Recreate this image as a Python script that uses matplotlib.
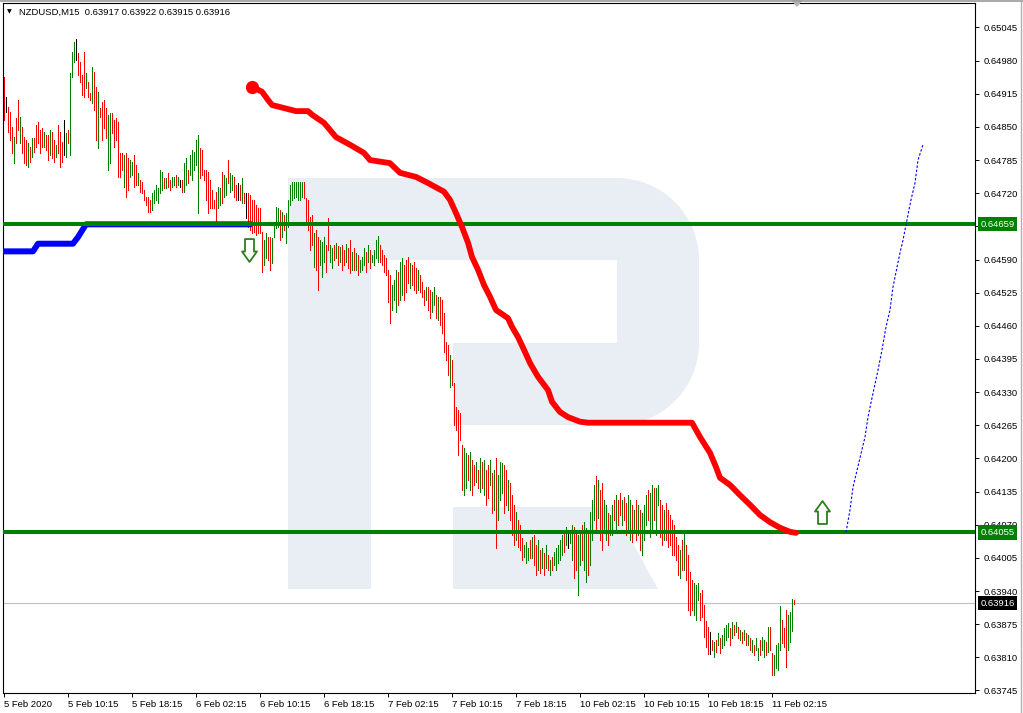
import numpy as np
import matplotlib
matplotlib.use("Agg")
import matplotlib.pyplot as plt
from matplotlib.patches import Polygon
from matplotlib.path import Path
from matplotlib.lines import Line2D

plt.rcParams['font.family'] = ['Liberation Sans', 'DejaVu Sans']

# M15 bars, prices in points (1e-5)
highs = [
    64948, 64909, 64889, 64879, 64850, 64830, 64868, 64903, 64870, 64850,
    64830, 64824, 64819, 64811, 64828, 64828, 64854, 64860, 64844, 64848,
    64840, 64834, 64834, 64844, 64840, 64824, 64815, 64854, 64840, 64821,
    64864, 64838, 64844, 64956, 64997, 65017, 65023, 64995, 64977, 64952,
    64997, 64956, 64938, 64917, 64968, 64958, 64928, 64919, 64887, 64899,
    64903, 64887, 64873, 64877, 64877, 64864, 64868, 64860, 64799, 64799,
    64795, 64799, 64789, 64785, 64781, 64795, 64775, 64760, 64746, 64742,
    64726, 64713, 64713, 64707, 64721, 64726, 64736, 64730, 64766, 64762,
    64750, 64750, 64760, 64746, 64752, 64752, 64756, 64752, 64746, 64746,
    64779, 64789, 64766, 64795, 64805, 64801, 64824, 64834, 64809, 64805,
    64766, 64766, 64762, 64746, 64726, 64707, 64722, 64732, 64730, 64762,
    64756, 64750, 64785, 64760, 64756, 64752, 64736, 64740, 64736, 64750,
    64721, 64721, 64721, 64717, 64707, 64707, 64697, 64691, 64691, 64644,
    64628, 64642, 64634, 64634, 64632, 64658, 64693, 64691, 64687, 64683,
    64677, 64681, 64707, 64736, 64742, 64742, 64742, 64742, 64742, 64742,
    64742, 64711, 64707, 64673, 64677, 64642, 64648, 64634, 64628, 64624,
    64634, 64619, 64672, 64619, 64613, 64619, 64622, 64617, 64615, 64619,
    64609, 64621, 64613, 64628, 64605, 64613, 64603, 64599, 64589, 64595,
    64613, 64605, 64619, 64609, 64599, 64609, 64628, 64636, 64619, 64609,
    64599, 64593, 64570, 64560, 64540, 64550, 64570, 64566, 64585, 64593,
    64579, 64589, 64595, 64583, 64579, 64585, 64573, 64570, 64560, 64546,
    64530, 64536, 64536, 64530, 64526, 64536, 64521, 64517, 64517, 64511,
    64485, 64428, 64422, 64403, 64393, 64348, 64301, 64295, 64289, 64226,
    64220, 64211, 64207, 64213, 64197, 64187, 64193, 64177, 64201, 64193,
    64197, 64177, 64187, 64197, 64171, 64177, 64201, 64168, 64193, 64191,
    64187, 64177, 64158, 64152, 64128, 64109, 64095, 64079, 64070, 64044,
    64030, 64036, 64024, 64040, 64046, 64050, 64030, 64040, 64020, 64024,
    64015, 64030, 64011, 64001, 64007, 64017, 64024, 64030, 64040, 64050,
    64060, 64066, 64060, 64060, 64070, 64066, 64060, 64050, 64054, 64070,
    64075, 64064, 64060, 64095, 64119, 64148, 64166, 64158, 64138, 64152,
    64119, 64109, 64093, 64089, 64109, 64119, 64128, 64119, 64132, 64119,
    64124, 64113, 64128, 64119, 64109, 64099, 64119, 64109, 64099, 64093,
    64109, 64128, 64138, 64132, 64148, 64142, 64142, 64148, 64119, 64109,
    64099, 64113, 64099, 64089, 64079, 64070, 64046, 64030, 64020, 64040,
    64054, 64030, 64011, 63977, 63962, 63956, 63952, 63956, 63936, 63942,
    63913, 63881, 63869, 63860, 63844, 63840, 63844, 63858, 63848, 63854,
    63868, 63873, 63877, 63868, 63879, 63873, 63879, 63869, 63864, 63860,
    63864, 63858, 63854, 63848, 63844, 63834, 63848, 63828, 63844, 63850,
    63844, 63840, 63869, 63869, 63819, 63815, 63834, 63838, 63911, 63883,
    63868, 63903, 63893, 63899, 63924, 63922,
]
lows = [
    64864, 64879, 64840, 64824, 64799, 64779, 64819, 64844, 64819, 64799,
    64779, 64775, 64772, 64781, 64791, 64801, 64811, 64819, 64799, 64811,
    64811, 64805, 64785, 64795, 64789, 64781, 64791, 64799, 64772, 64781,
    64795, 64791, 64819, 64795, 64948, 64977, 64981, 64952, 64938, 64913,
    64909, 64926, 64909, 64903, 64897, 64883, 64824, 64809, 64870, 64824,
    64848, 64828, 64766, 64779, 64838, 64811, 64824, 64752, 64752, 64766,
    64732, 64713, 64726, 64752, 64756, 64732, 64736, 64736, 64722, 64721,
    64707, 64697, 64683, 64683, 64687, 64701, 64707, 64701, 64721, 64726,
    64730, 64730, 64732, 64726, 64732, 64736, 64732, 64736, 64732, 64722,
    64722, 64736, 64740, 64756, 64746, 64766, 64775, 64681, 64750, 64756,
    64746, 64707, 64681, 64691, 64691, 64691, 64664, 64691, 64697, 64701,
    64713, 64717, 64740, 64722, 64726, 64713, 64707, 64707, 64707, 64701,
    64701, 64672, 64654, 64648, 64642, 64644, 64638, 64642, 64642, 64566,
    64579, 64593, 64589, 64570, 64583, 64634, 64652, 64654, 64628, 64634,
    64648, 64622, 64654, 64697, 64707, 64711, 64713, 64707, 64707, 64713,
    64711, 64658, 64648, 64609, 64619, 64575, 64570, 64530, 64579, 64556,
    64585, 64566, 64609, 64585, 64573, 64589, 64593, 64579, 64585, 64570,
    64579, 64585, 64573, 64564, 64570, 64570, 64570, 64560, 64566, 64570,
    64579, 64566, 64585, 64573, 64585, 64579, 64593, 64585, 64585, 64579,
    64566, 64560, 64507, 64466, 64491, 64511, 64487, 64501, 64511, 64521,
    64511, 64526, 64544, 64534, 64540, 64530, 64524, 64530, 64526, 64517,
    64501, 64511, 64491, 64475, 64487, 64501, 64475, 64471, 64462, 64446,
    64409, 64393, 64364, 64340, 64344, 64266, 64256, 64207, 64236, 64138,
    64128, 64142, 64158, 64138, 64128, 64148, 64154, 64142, 64134, 64142,
    64128, 64109, 64122, 64148, 64093, 64099, 64024, 64079, 64119, 64132,
    64093, 64109, 64099, 64079, 64050, 64030, 64040, 64026, 64020, 64001,
    64007, 63995, 64001, 64005, 64005, 63991, 63971, 63981, 63975, 63985,
    63971, 63985, 63981, 63971, 63981, 63991, 63981, 63995, 64001, 64011,
    64017, 64030, 64024, 64034, 64001, 63966, 63981, 63932, 63991, 64001,
    63981, 63958, 63971, 63991, 64040, 64079, 64060, 64083, 64040, 64020,
    64060, 64040, 64030, 64050, 64050, 64079, 64060, 64070, 64089, 64070,
    64079, 64050, 64060, 64040, 64036, 64060, 64040, 64050, 64020, 64011,
    64040, 64070, 64079, 64046, 64060, 64079, 64050, 64109, 64046, 64030,
    64040, 64040, 64026, 64030, 64011, 64011, 64001, 63971, 63966, 63981,
    63981, 63962, 63903, 63893, 63903, 63893, 63883, 63922, 63883, 63889,
    63850, 63830, 63817, 63817, 63824, 63811, 63820, 63834, 63819, 63828,
    63834, 63844, 63850, 63834, 63848, 63854, 63860, 63848, 63844, 63838,
    63844, 63834, 63834, 63824, 63820, 63815, 63824, 63805, 63815, 63824,
    63811, 63815, 63820, 63824, 63775, 63775, 63789, 63785, 63824, 63838,
    63830, 63791, 63824, 63840, 63862, 63915,
]
# bar direction: g = up, r = down, k = doji
direction = (
    "rkrrrgrrgr" "rrgrgrrrrr" "grrgrrgrrr" "kgrgggkrrr" "rgrrgrrgrr"
    "rrggrrrrrr" "grrggrrgrr" "rrrrgggggg" "rgrrggrgkr" "ggrgggggrr"
    "rrrrrrrggr" "ggrggrrkrg" "rkrrrrrrrr" "ggrrggggrg" "rggggggggg"
    "rrrrrgrrgg" "grrggrgrgr" "rgrrgrgrgg" "grgrggggrr" "rrrrgggrgg"
    "rrrgrrrgrr" "rgrrggrgrr" "rrrgrrrrrr" "ggrgrrgrgr" "grrgrgrggg"
    "rrgrrrgrrr" "gggrgrrgrg" "rgrgrggggg" "rgkggrrggr" "ggrgggrgrr"
    "ggrggrgrrg" "rrggrgrgrg" "ggrggrggrr" "grrrrrrrgr" "grrrrgggrr"
    "rrrkrgrgrg" "gggrgrgrgr" "grgrgrggrg" "grgrrggggr" "rrgggr"
)

# red trailing indicator
red_idx = [124, 129, 132, 134, 140, 146, 152, 154, 160, 166, 173, 180, 183, 193,
           198, 206, 212, 220, 223, 226, 229, 232, 234, 237, 240, 243, 246, 252,
           254, 257, 260, 263, 267, 272, 274, 278, 282, 288, 292, 344, 348, 353,
           356, 358, 363, 368, 373, 378, 383, 388, 393, 396]
red_val = [64929, 64919, 64903, 64893, 64887, 64881, 64881, 64874, 64858, 64830,
           64815, 64799, 64785, 64779, 64760, 64752, 64740, 64723, 64707, 64681,
           64654, 64623, 64595, 64570, 64540, 64517, 64491, 64475, 64458, 64438,
           64413, 64387, 64360, 64334, 64311, 64291, 64281, 64272, 64270, 64270,
           64242, 64211, 64183, 64162, 64148, 64128, 64109, 64089, 64075, 64064,
           64056, 64054]

# blue indicator
blue_idx = [-0.5, 14.5, 17, 34.5, 37, 41, 124]
blue_val = [64606, 64606, 64621, 64621, 64634, 64659, 64659]

# forecast path
fc_idx = [421, 423, 424.5, 428, 430.5, 432, 434.5, 437, 439, 441, 443, 444.5,
          446.5, 448, 449.5, 451.5, 453.5, 455.5, 457, 459.5]
fc_val = [64055, 64099, 64144, 64201, 64242, 64281, 64328, 64373, 64413, 64458,
          64491, 64536, 64575, 64603, 64628, 64668, 64707, 64740, 64785, 64815]

levels = [0.64659, 0.64055]
last_price = 0.63916

sig_idx = [122.6, 409]
sig_price = [0.64608, 0.64094]

time_labels = ["5 Feb 2020", "5 Feb 10:15", "5 Feb 18:15", "6 Feb 02:15",
               "6 Feb 10:15", "6 Feb 18:15", "7 Feb 02:15", "7 Feb 10:15",
               "7 Feb 18:15", "10 Feb 02:15", "10 Feb 10:15", "10 Feb 18:15",
               "11 Feb 02:15"]
price_ticks = [0.65045 - 0.00065 * k for k in range(21)]

W, H = 1023, 713
fig = plt.figure(figsize=(W / 100, H / 100), dpi=100)
fig.patch.set_facecolor('white')


def fpx(pts):
    return [(x / W, 1 - y / H) for x, y in pts]


def arc(cx, cy, r, a0, a1, n=24):
    a = np.radians(np.linspace(a0, a1, n))
    return list(zip(cx + r * np.cos(a), cy - r * np.sin(a)))


# watermark "R"
wm = '#E9EDF4'
outline = ([(288, 589), (288, 178)] + arc(617, 260, 82, 90, 0) +
           arc(617, 343, 82, 0, -90) +
           [(453, 425), (453, 343), (617, 343), (617, 260), (371, 260), (371, 589)])
leg = [(453, 507), (613, 507), (658, 589), (453, 589)]
for shape in (outline, leg):
    fig.add_artist(Polygon(fpx(shape), closed=True, fc=wm, ec='none',
                           transform=fig.transFigure, zorder=-1))

ax = fig.add_axes([3 / W, 1 - 693 / H, 972 / W, 690 / H])
ax.set_facecolor('none')
ax.set_xlim(-0.5, 485.5)
ax.set_ylim(0.63740, 0.65093)

cmap = {'g': '#008000', 'r': '#FF0000', 'k': '#000000'}
xs = np.arange(len(highs))
ax.vlines(xs, np.array(lows) / 1e5, np.array(highs) / 1e5,
          colors=[cmap[c] for c in direction], lw=0.5, antialiased=False, zorder=2)

ax.axhline(last_price, color='#C0C0C0', lw=0.8, zorder=1.5)
ax.plot(blue_idx, np.array(blue_val) / 1e5, color='#0000FF', lw=4.3,
        solid_capstyle='butt', zorder=3)
for lv in levels:
    ax.axhline(lv, color='#008000', lw=2.9, zorder=4)
ax.plot(red_idx, np.array(red_val) / 1e5, color='#FF0000', lw=4.2,
        solid_capstyle='round', solid_joinstyle='round', zorder=5)
ax.plot(red_idx[0], red_val[0] / 1e5, 'o', color='#FF0000', ms=8.5, zorder=5)
ax.plot(fc_idx, np.array(fc_val) / 1e5, color='#0000FF', lw=0.8,
        linestyle=(0, (2.2, 1.6)), zorder=5)

# signal arrows
down = [(-4.5, 11.5), (4.5, 11.5), (4.5, -1), (7.5, -1), (0, -11.5),
        (-7.5, -1), (-4.5, -1), (-4.5, 11.5)]
down_path = Path(down, closed=True)
up_path = Path([(x, -y) for x, y in down], closed=True)
for i, (xi, yi) in enumerate(zip(sig_idx, sig_price)):
    ax.plot(xi, yi, marker=down_path if i == 0 else up_path, ms=16.5,
            mfc='white', mec='#2E7D1E', mew=1.3, zorder=6, clip_on=False)

# axes styling
for sp in ax.spines.values():
    sp.set_color('black')
    sp.set_linewidth(0.8)
ax.yaxis.tick_right()
ax.set_yticks(price_ticks)
# the 0.64655 label sits fully under the 0.64659 level box
ax.set_yticklabels(["" if abs(t - 0.64655) < 1e-7 else "%.5f" % t for t in price_ticks])
ax.set_xticks(np.arange(len(time_labels)) * 32)
ax.set_xticklabels(time_labels)
for lab in ax.get_xticklabels():
    lab.set_horizontalalignment('left')
ax.tick_params(axis='y', direction='out', length=3, width=0.7, pad=3,
               labelsize=6.8, colors='black')
ax.tick_params(axis='x', direction='out', length=3, width=0.7, pad=2,
               labelsize=6.8, colors='black')

# price boxes on the scale
for val, bg in [(levels[0], '#008000'), (levels[1], '#008000'), (last_price, '#000000')]:
    ax.annotate("%.5f" % val, xy=(1.0, val), xycoords=('axes fraction', 'data'),
                xytext=(4, 0), textcoords='offset points', va='center', ha='left',
                fontsize=6.8, color='white', zorder=10, annotation_clip=False,
                bbox=dict(boxstyle='square,pad=0.28', fc=bg, ec='none'))

# header
fig.text(7 / W, 1 - 12 / H, "\u25BC", fontsize=4.5, family='DejaVu Sans',
         va='center', ha='left')
fig.text(19 / W, 1 - 12 / H, "NZDUSD,M15  0.63917 0.63922 0.63915 0.63916",
         fontsize=6.8, va='center', ha='left')

# chart shift marker and window borders
fig.add_artist(Polygon(fpx([(791, 0), (803, 0), (797, 7)]), closed=True,
                       fc='#B4B4B4', ec='none', transform=fig.transFigure))
fig.add_artist(Line2D([0, 1], [1 - 0.7 / H] * 2, color='#9A9A9A', lw=1.2,
                      transform=fig.transFigure))
fig.add_artist(Line2D([1020.5 / W] * 2, [0, 1], color='#B0B0B0', lw=1.0,
                      transform=fig.transFigure))

fig.savefig("out.png", dpi=100, facecolor='white')
